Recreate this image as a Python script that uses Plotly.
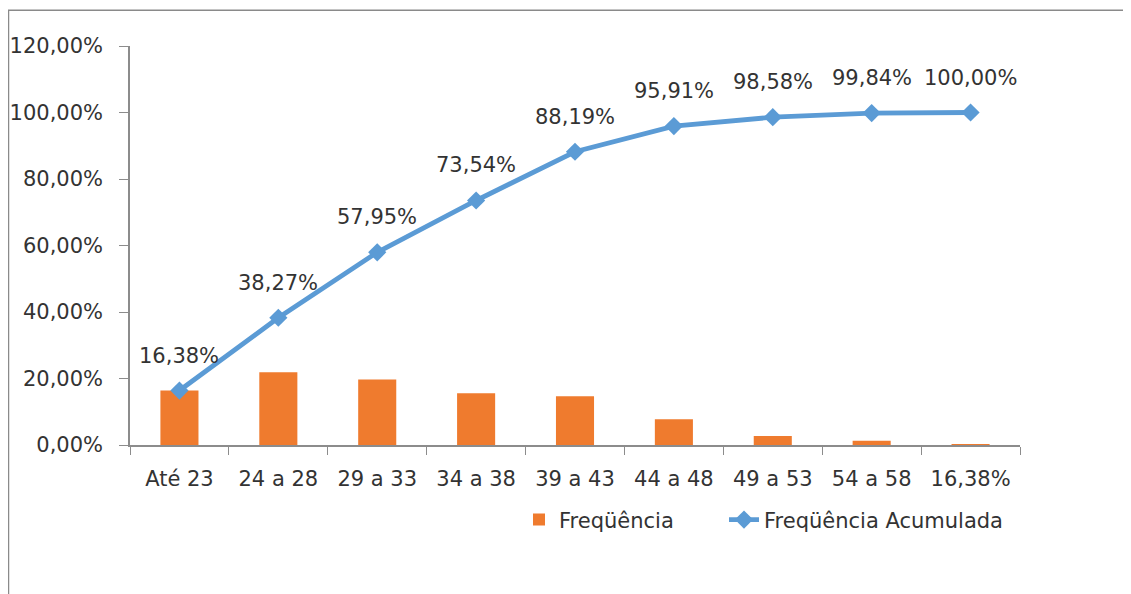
import plotly.graph_objects as go

categories = ["Até 23", "24 a 28", "29 a 33", "34 a 38", "39 a 43", "44 a 48", "49 a 53", "54 a 58", "16,38%"]
frequencia = [16.38, 21.89, 19.68, 15.59, 14.65, 7.72, 2.67, 1.26, 0.16]
acumulada = [16.38, 38.27, 57.95, 73.54, 88.19, 95.91, 98.58, 99.84, 100.00]
y_ticks = [0, 20, 40, 60, 80, 100, 120]


def pct(v):
    return f"{v:.2f}%".replace(".", ",")


W, H = 1131, 594
OX, OY = 8, 8  # page offset of the figure
L, R, T, B = 130 - OX, 1020 - OX, 45.7 - OY, 445 - OY
pw, ph = R - L, B - T

FONT = "DejaVu Sans"
FS = 21
TXT = "#333333"
AX = "#8c8c8c"

fig = go.Figure()
fig.add_trace(go.Bar(
    x=categories, y=frequencia, name="Freqüência",
    marker=dict(color="#EF7B2E", line=dict(width=0)),
    width=0.385, legend="legend",
))
fig.add_trace(go.Scatter(
    x=categories, y=acumulada, name="Freqüência Acumulada",
    mode="lines+markers",
    line=dict(color="#5B9BD5", width=4.8),
    marker=dict(symbol="diamond", size=14, color="#5B9BD5"),
    legend="legend2",
))

for c, v in zip(categories, acumulada):
    fig.add_annotation(
        x=c, y=v, text=pct(v), showarrow=False,
        yshift=35, font=dict(family=FONT, size=FS, color=TXT),
    )


def px2x(p):
    return (p - OX - L) / pw


def px2y(p):
    return (B - (p - OY)) / ph


legend_common = dict(
    orientation="h", xanchor="left", yanchor="middle", y=px2y(520),
    font=dict(family=FONT, size=FS, color=TXT), bgcolor="rgba(0,0,0,0)",
)

fig.update_layout(
    width=W, height=H,
    margin=dict(l=L, r=W - R, t=T, b=H - B, autoexpand=False),
    paper_bgcolor="white", plot_bgcolor="white",
    font=dict(family=FONT, size=FS, color=TXT),
    showlegend=True,
    legend=dict(x=px2x(519), **legend_common),
    legend2=dict(x=px2x(724), **legend_common),
    xaxis=dict(
        type="category", range=[-0.5, 8.5], tickson="boundaries",
        ticks="outside", ticklen=8, tickcolor=AX, tickwidth=1.3,
        showline=True, linecolor=AX, linewidth=1.5, showgrid=False,
        ticklabelstandoff=14, fixedrange=True, automargin=False,
    ),
    yaxis=dict(
        range=[0, 120], tickvals=y_ticks, ticktext=[pct(v) for v in y_ticks],
        ticks="outside", ticklen=9, tickcolor=AX, tickwidth=1.3,
        showline=True, linecolor=AX, linewidth=1.5, showgrid=False, zeroline=False,
        ticklabelstandoff=12, fixedrange=True, automargin=False,
    ),
    xaxis2=dict(
        overlaying="x", type="linear", range=[-0.5, 8.5],
        tickvals=[i - 0.5 for i in range(len(categories) + 1)],
        ticks="inside", ticklen=8, tickcolor=AX, tickwidth=1.3,
        showticklabels=False, showgrid=False, zeroline=False, showline=False,
        anchor="y2", side="bottom",
    ),
    yaxis2=dict(
        overlaying="y", range=[0, 120], tickvals=y_ticks,
        ticks="inside", ticklen=8, tickcolor=AX, tickwidth=1.3,
        showticklabels=False, showgrid=False, zeroline=False, showline=False,
        anchor="x2", side="left",
    ),
    shapes=[dict(
        type="rect", xref="paper", yref="paper",
        x0=px2x(8.5), x1=px2x(1145), y0=px2y(620), y1=px2y(10),
        line=dict(color="#8a8a8a", width=1.5), fillcolor="rgba(0,0,0,0)", layer="below",
    )],
)

fig.write_html("out.html")
